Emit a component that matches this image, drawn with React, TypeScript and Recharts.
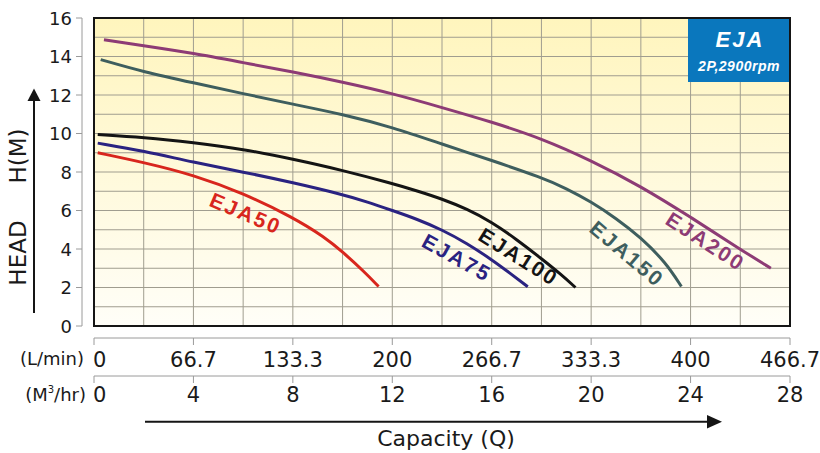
import React from 'react';
import {
  LineChart,
  Line,
  XAxis,
  YAxis,
  CartesianGrid,
  ReferenceArea,
  ReferenceDot,
} from 'recharts';

// ---- axis ticks ----
const capacityM3Ticks = [0, 2, 4, 6, 8, 10, 12, 14, 16, 18, 20, 22, 24, 26, 28];
const capacityM3Labels = [0, 4, 8, 12, 16, 20, 24, 28];
const capacityLminLabels = ['0', '66.7', '133.3', '200', '266.7', '333.3', '400', '466.7'];
const headTicks = [0, 1, 2, 3, 4, 5, 6, 7, 8, 9, 10, 11, 12, 13, 14, 15, 16];
const headLabels = [0, 2, 4, 6, 8, 10, 12, 14, 16];

// ---- pump curves (q: M3/hr, h: head in m) ----
const eja50 = [
  { q: 0.15, h: 9.0 },
  { q: 2, h: 8.5 },
  { q: 4, h: 7.85 },
  { q: 6, h: 6.9 },
  { q: 8, h: 5.65 },
  { q: 9.3, h: 4.6 },
  { q: 10, h: 3.85 },
  { q: 10.85, h: 2.85 },
  { q: 11.45, h: 2.05 },
];
const eja75 = [
  { q: 0.15, h: 9.5 },
  { q: 2, h: 9.1 },
  { q: 4, h: 8.5 },
  { q: 6, h: 8.0 },
  { q: 8, h: 7.45 },
  { q: 10, h: 6.83 },
  { q: 11, h: 6.45 },
  { q: 12, h: 6.0 },
  { q: 13, h: 5.55 },
  { q: 14, h: 5.0 },
  { q: 15, h: 4.3 },
  { q: 16, h: 3.45 },
  { q: 16.75, h: 2.73 },
  { q: 17.45, h: 2.04 },
];
const eja100 = [
  { q: 0.15, h: 9.95 },
  { q: 2, h: 9.8 },
  { q: 4, h: 9.53 },
  { q: 6, h: 9.19 },
  { q: 8, h: 8.67 },
  { q: 10, h: 8.09 },
  { q: 12, h: 7.4 },
  { q: 13, h: 7.02 },
  { q: 14, h: 6.6 },
  { q: 15, h: 6.08 },
  { q: 16, h: 5.4 },
  { q: 17, h: 4.5 },
  { q: 18, h: 3.5 },
  { q: 18.77, h: 2.7 },
  { q: 19.37, h: 2.0 },
];
const eja150 = [
  { q: 0.27, h: 13.84 },
  { q: 2, h: 13.2 },
  { q: 4, h: 12.63 },
  { q: 6, h: 12.07 },
  { q: 8, h: 11.52 },
  { q: 10, h: 11.0 },
  { q: 12, h: 10.33 },
  { q: 14, h: 9.45 },
  { q: 16, h: 8.6 },
  { q: 18, h: 7.72 },
  { q: 19, h: 7.15 },
  { q: 20, h: 6.45 },
  { q: 21, h: 5.6 },
  { q: 22, h: 4.6 },
  { q: 23, h: 3.3 },
  { q: 23.63, h: 2.05 },
];
const eja200 = [
  { q: 0.4, h: 14.87 },
  { q: 2, h: 14.56 },
  { q: 4, h: 14.17 },
  { q: 6, h: 13.68 },
  { q: 8, h: 13.2 },
  { q: 10, h: 12.67 },
  { q: 12, h: 12.08 },
  { q: 14, h: 11.35 },
  { q: 16, h: 10.6 },
  { q: 18, h: 9.75 },
  { q: 20, h: 8.6 },
  { q: 22, h: 7.26 },
  { q: 24, h: 5.66 },
  { q: 26, h: 3.98 },
  { q: 27.23, h: 3.0 },
];

// ---- curve name annotations (anchored in data units) ----
const curveNames = ['EJA50', 'EJA75', 'EJA100', 'EJA150', 'EJA200'];
const curveNameQ = [6.11, 14.6, 17.09, 21.45, 24.61];
const curveNameH = [5.85, 3.55, 3.6, 3.75, 4.4];

const SERIES = [
  { name: 'EJA50', data: eja50, color: '#d8261d', angle: 23 },
  { name: 'EJA75', data: eja75, color: '#2a2381', angle: 29 },
  { name: 'EJA100', data: eja100, color: '#141414', angle: 32 },
  { name: 'EJA150', data: eja150, color: '#3e5e5e', angle: 40 },
  { name: 'EJA200', data: eja200, color: '#8d3b75', angle: 33 },
];

const AXIS_FONT = '"DejaVu Sans", sans-serif';
const LABEL_FONT = '"Liberation Sans", Arial, sans-serif';
const AXIS_GRAY = '#9a9a9a';

// The M3/hr axis tick also draws the matching L/min tick in the row above it.
const CapacityTick = (props: any) => {
  const { x, y, payload, index } = props;
  const v = payload.value;
  const li = capacityM3Labels.indexOf(v);
  if (li < 0) return <g key={`t-${index}`} />;
  const anchor = v === 0 ? 'start' : 'middle';
  const tx = v === 0 ? x - 1 : x;
  return (
    <g key={`t-${index}`}>
      {/* L/min row */}
      <line x1={x} x2={x} y1={y - 24} y2={y - 17} stroke={AXIS_GRAY} strokeWidth={1} />
      <text x={tx} y={y + 4.5} textAnchor={anchor} fontFamily={AXIS_FONT} fontSize={21} fill="#1a1a1a">
        {capacityLminLabels[li]}
      </text>
      {/* M3/hr row */}
      <line x1={x} x2={x} y1={y + 14} y2={y + 21} stroke={AXIS_GRAY} strokeWidth={1} />
      <text x={tx} y={y + 39.7} textAnchor={anchor} fontFamily={AXIS_FONT} fontSize={21} fill="#1a1a1a">
        {String(v)}
      </text>
    </g>
  );
};

const HeadTick = (props: any) => {
  const { x, y, payload, index } = props;
  const v = payload.value;
  if (headLabels.indexOf(v) < 0) return <g key={`h-${index}`} />;
  return (
    <g key={`h-${index}`}>
      <line x1={x - 18} x2={x - 12} y1={y} y2={y} stroke={AXIS_GRAY} strokeWidth={1} />
      <text x={x - 22} y={y + 6.5} textAnchor="end" fontFamily={AXIS_FONT} fontSize={18} fill="#1a1a1a">
        {String(v)}
      </text>
    </g>
  );
};

const nameShape = (label: string, color: string, angle: number) => (props: any) => {
  const { cx, cy } = props;
  return (
    <text
      x={cx}
      y={cy}
      transform={`rotate(${angle} ${cx} ${cy})`}
      textAnchor="middle"
      dominantBaseline="central"
      fontFamily={LABEL_FONT}
      fontWeight="bold"
      fontSize={21}
      letterSpacing={2.3}
      fill={color}
    >
      {label}
    </text>
  );
};

export default function App() {
  return (
    <div
      style={{
        position: 'absolute',
        left: 0,
        top: 0,
        width: 820,
        height: 453,
        overflow: 'hidden',
        background: '#ffffff',
      }}
    >
      <LineChart width={820} height={453} margin={{ top: 18, right: 30, bottom: 41, left: 0 }}>
        <defs>
          <linearGradient id="plotBg" x1="0" y1="0" x2="0" y2="1">
            <stop offset="0" stopColor="#fff5bd" />
            <stop offset="1" stopColor="#fffef8" />
          </linearGradient>
        </defs>
        <XAxis
          xAxisId="lmin"
          type="number"
          domain={[0, 466.7]}
          allowDataOverflow
          height={36}
          tick={false}
          tickLine={false}
          axisLine={{ stroke: AXIS_GRAY, strokeWidth: 1, transform: 'translate(0,12)' }}
        />
        <XAxis
          xAxisId="m3"
          dataKey="q"
          type="number"
          domain={[0, 28]}
          ticks={capacityM3Ticks}
          allowDataOverflow
          interval={0}
          height={50}
          tickSize={0}
          tickMargin={0}
          tickLine={false}
          axisLine={{ stroke: AXIS_GRAY, strokeWidth: 1, transform: 'translate(0,14)' }}
          tick={CapacityTick}
        />
        <YAxis
          yAxisId="h"
          type="number"
          domain={[0, 16]}
          ticks={headTicks}
          allowDataOverflow
          interval={0}
          width={94}
          tickSize={0}
          tickMargin={0}
          tickLine={false}
          axisLine={{ stroke: AXIS_GRAY, strokeWidth: 1, transform: 'translate(-12,0)' }}
          tick={HeadTick}
        />
        <CartesianGrid
          xAxisId="m3"
          yAxisId="h"
          fill="url(#plotBg)"
          fillOpacity={1}
          stroke="#a09d8f"
          strokeWidth={1}
        />
        {SERIES.map((s) => (
          <Line
            key={s.name}
            xAxisId="m3"
            yAxisId="h"
            data={s.data}
            dataKey="h"
            type="basis"
            stroke={s.color}
            strokeWidth={3}
            dot={false}
            activeDot={false}
            isAnimationActive={false}
          />
        ))}
        {SERIES.map((s, i) => (
          <ReferenceDot
            key={`n-${s.name}`}
            xAxisId="m3"
            yAxisId="h"
            x={curveNameQ[i]}
            y={curveNameH[i]}
            r={0}
            shape={nameShape(curveNames[i], s.color, s.angle)}
          />
        ))}
        <ReferenceArea
          xAxisId="m3"
          yAxisId="h"
          x1={0}
          x2={28}
          y1={0}
          y2={16}
          fill="none"
          fillOpacity={0}
          stroke="#151515"
          strokeWidth={2}
        />
      </LineChart>
      <svg
        width={820}
        height={453}
        style={{ position: 'absolute', left: 0, top: 0, pointerEvents: 'none' }}
      >
        {/* EJA box */}
        <rect x={688} y={19} width={101} height={63} fill="#0a77bd" />
        <text
          x={740}
          y={47}
          textAnchor="middle"
          fontFamily={LABEL_FONT}
          fontWeight="bold"
          fontStyle="italic"
          fontSize={22}
          letterSpacing={2}
          fill="#ffffff"
        >
          EJA
        </text>
        <text
          x={739}
          y={70.5}
          textAnchor="middle"
          fontFamily={LABEL_FONT}
          fontWeight="bold"
          fontStyle="italic"
          fontSize={14}
          letterSpacing={0.5}
          fill="#ffffff"
        >
          2P,2900rpm
        </text>
        {/* axis unit labels */}
        <text x={84} y={365} textAnchor="end" fontFamily={AXIS_FONT} fontSize={18} fill="#1a1a1a">
          (L/min)
        </text>
        <text x={86} y={401} textAnchor="end" fontFamily={AXIS_FONT} fontSize={18} fill="#1a1a1a">
          (M
          <tspan fontSize={10} dy={-8}>
            3
          </tspan>
          <tspan dy={8}>/hr)</tspan>
        </text>
        {/* capacity arrow */}
        <line x1={145} y1={421.7} x2={710} y2={421.7} stroke="#151515" strokeWidth={2} />
        <polygon points="707,415 722,421.7 707,428.4" fill="#151515" />
        <text x={446} y={446} textAnchor="middle" fontFamily={AXIS_FONT} fontSize={22} fill="#1a1a1a">
          Capacity (Q)
        </text>
        {/* head arrow */}
        <line x1={34} y1={99} x2={34} y2={313} stroke="#151515" strokeWidth={2} />
        <polygon points="27.5,101 34,88.5 40.5,101" fill="#151515" />
        <text
          x={26}
          y={156}
          transform="rotate(-90 26 156)"
          textAnchor="middle"
          fontFamily={AXIS_FONT}
          fontSize={23}
          fill="#1a1a1a"
        >
          H(M)
        </text>
        <text
          x={26}
          y={253}
          transform="rotate(-90 26 253)"
          textAnchor="middle"
          fontFamily={AXIS_FONT}
          fontSize={23}
          fill="#1a1a1a"
        >
          HEAD
        </text>
      </svg>
    </div>
  );
}
